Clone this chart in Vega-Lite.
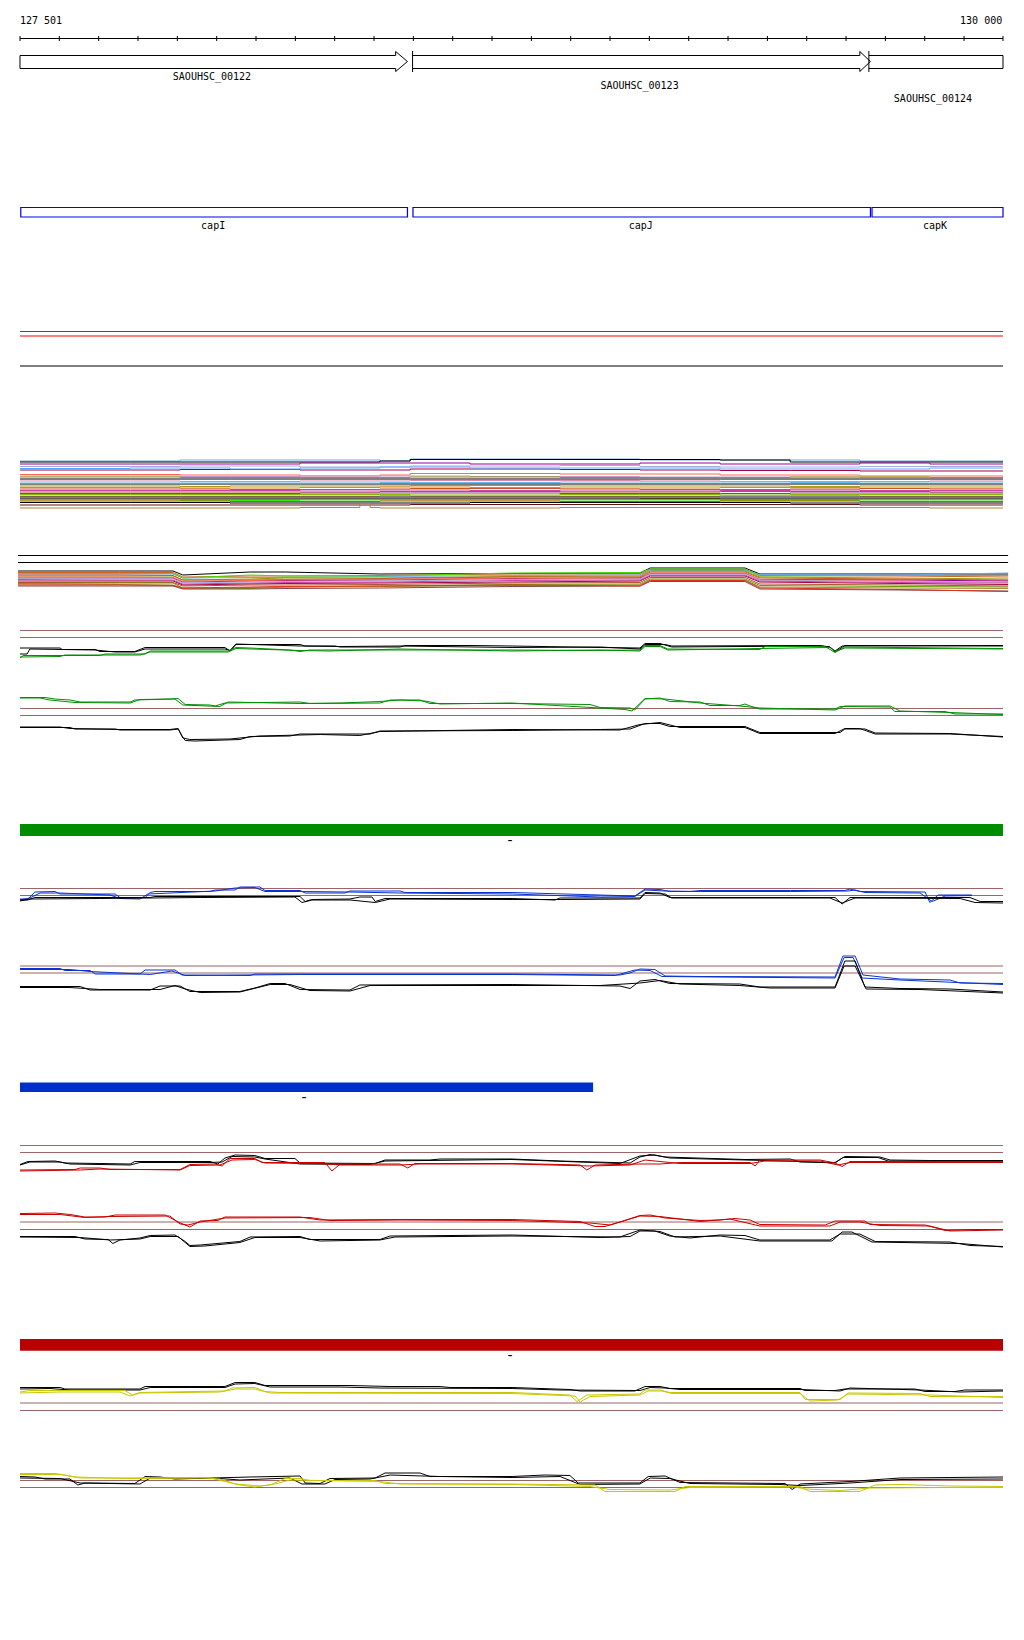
{
"$schema":"https://vega.github.io/schema/vega-lite/v6.json",
"width":1024,"height":1640,
"autosize":{"type":"fit","contains":"padding"},
"padding":0,
"background":"white",
"view":{"stroke":null},
"datasets":{
"hrules":[
{"s":"ref","x":127501,"x2":130000,"y":38.5},
{"s":"pair","x":127501,"x2":130000,"y":331.5},
{"s":"pair","x":127501,"x2":130000,"y":336},
{"s":"ref","x":127501,"x2":130000,"y":366},
{"s":"ref","x":127496,"x2":130013,"y":555.5},
{"s":"ref","x":127496,"x2":130013,"y":562.5},
{"s":"thr","x":127501,"x2":130000,"y":630.5},
{"s":"thr","x":127501,"x2":130000,"y":637.5},
{"s":"thr","x":127501,"x2":130000,"y":708.5},
{"s":"thr","x":127501,"x2":130000,"y":715.5},
{"s":"thr","x":127501,"x2":130000,"y":888.5},
{"s":"thr","x":127501,"x2":130000,"y":895.5},
{"s":"thr","x":127501,"x2":130000,"y":966},
{"s":"thr","x":127501,"x2":130000,"y":973},
{"s":"thr","x":127501,"x2":130000,"y":1145.5},
{"s":"thr","x":127501,"x2":130000,"y":1152.5},
{"s":"thr","x":127501,"x2":130000,"y":1222},
{"s":"thr","x":127501,"x2":130000,"y":1229.5},
{"s":"thr","x":127501,"x2":130000,"y":1403},
{"s":"thr","x":127501,"x2":130000,"y":1410.5},
{"s":"thr","x":127501,"x2":130000,"y":1480.5},
{"s":"thr","x":127501,"x2":130000,"y":1487.5}
],
"ticks":[
{"x":127501,"y":36,"y2":41},{"x":127601,"y":36,"y2":41},{"x":127701,"y":36,"y2":41},{"x":127801,"y":36,"y2":41},{"x":127901,"y":36,"y2":41},
{"x":128001,"y":36,"y2":41},{"x":128101,"y":36,"y2":41},{"x":128201,"y":36,"y2":41},{"x":128301,"y":36,"y2":41},{"x":128401,"y":36,"y2":41},
{"x":128501,"y":36,"y2":41},{"x":128601,"y":36,"y2":41},{"x":128701,"y":36,"y2":41},{"x":128801,"y":36,"y2":41},{"x":128901,"y":36,"y2":41},
{"x":129001,"y":36,"y2":41},{"x":129101,"y":36,"y2":41},{"x":129201,"y":36,"y2":41},{"x":129301,"y":36,"y2":41},{"x":129401,"y":36,"y2":41},
{"x":129501,"y":36,"y2":41},{"x":129601,"y":36,"y2":41},{"x":129701,"y":36,"y2":41},{"x":129801,"y":36,"y2":41},{"x":129901,"y":36,"y2":41},
{"x":130000,"y":36,"y2":41}
],
"genes":[
{"id":"g1","x":[127501,128456,128456,128486,128456,128456,127501,127501],"y":[55.5,55.5,51.5,61.5,71.5,68.5,68.5,55.5],"i":[0,1,2,3,4,5,6,7]},
{"id":"g2s","x":[128499,128499],"y":[51,72],"i":[0,1]},
{"id":"g2","x":[128499,129636,129636,129663,129636,129636,128499],"y":[55.5,55.5,51.5,61.5,71.5,68.5,68.5],"i":[0,1,2,3,4,5,6]},
{"id":"g3s","x":[129659,129659],"y":[51,72],"i":[0,1]},
{"id":"g3","x":[129659,130000,130000,129659],"y":[55.5,55.5,68.5,68.5],"i":[0,1,2,3]}
],
"caps":[
{"t":"capI","x":127503,"x2":128486,"y":207.5,"y2":217},
{"t":"capJ","x":128500,"x2":129663,"y":207.5,"y2":217},
{"t":"capK","x":129667,"x2":130000,"y":207.5,"y2":217}
],
"bars":[
{"s":"barG","x":127501,"x2":130000,"y":824,"y2":836},
{"s":"barB","x":127501,"x2":128958,"y":1082.5,"y2":1092},
{"s":"barR","x":127501,"x2":130000,"y":1339,"y2":1350.7}
],
"textC":[
{"t":"SAOUHSC_00122","x":127989,"y":80},
{"t":"SAOUHSC_00123","x":129076,"y":89},
{"t":"SAOUHSC_00124","x":129822,"y":101.5},
{"t":"capI","x":127992,"y":228.5},
{"t":"capJ","x":129079,"y":228.5},
{"t":"capK","x":129827,"y":228.5}
],
"dashes":[
{"t":"-","x":128747,"y":845},
{"t":"-","x":128223,"y":1101.5},
{"t":"-","x":128747,"y":1359.5}
],
"textL":[{"t":"127 501","x":127501,"y":24}],
"textR":[{"t":"130 000","x":129998,"y":24}],
"band1":[
{"id":"m01","s":"m01","x":[127501,127781,127908,128035,128213,128416,128493,128645,128874,129077,129281,129459,129636,129814,130000],"y":[461,461,460,460,460,461,459,459,459,460,460,460,461,461,461]},
{"id":"m02","s":"m02","x":[127501,127781,127908,128035,128213,128416,128493,128645,128874,129077,129281,129459,129636,129814,130000],"y":[462,462,462,462,462,461,459.5,459.5,459.5,459.5,460,462,462,462,462]},
{"id":"m03","s":"m03","x":[127501,127781,127908,128035,128213,128416,128493,128645,128874,129077,129281,129459,129636,129814,130000],"y":[464,464,464,464,463,463,463,464,464,463,464,464,463,464,464]},
{"id":"m04","s":"m04","x":[127501,127781,127908,128035,128213,128416,128493,128645,128874,129077,129281,129459,129636,129814,130000],"y":[466.5,466.5,466,466,467,467,466,466,465.5,466.5,467,467,466.5,466.5,466.5]},
{"id":"m05","s":"m05","x":[127501,127781,127908,128035,128213,128416,128493,128645,128874,129077,129281,129459,129636,129814,130000],"y":[470,470,469.5,469.5,470,470,469,469,469.5,470,470.5,470.5,471,471,471]},
{"id":"m06","s":"m06","x":[127501,127781,127908,128035,128213,128416,128493,128645,128874,129077,129281,129459,129636,129814,130000],"y":[468.5,468,468,469,468,467,467,468,468,468,469,469,469,468,468]},
{"id":"m07","s":"m07","x":[127501,127781,127908,128035,128213,128416,128493,128645,128874,129077,129281,129459,129636,129814,130000],"y":[474.5,474.5,475,475,476,475,473.5,473.5,474,474,475,475,476,476,476]},
{"id":"m08","s":"m08","x":[127501,127781,127908,128035,128213,128416,128493,128645,128874,129077,129281,129459,129636,129814,130000],"y":[476,476,476.5,476.5,476,476,476,476.5,476.5,477,477,477,477.5,477.5,477.5]},
{"id":"m09","s":"m09","x":[127501,127781,127908,128035,128213,128416,128493,128645,128874,129077,129281,129459,129636,129814,130000],"y":[477,477,477.5,477.5,477.5,477.5,477,477,477.5,477.5,477.5,477,477,477.5,477.5]},
{"id":"m10","s":"m10","x":[127501,127781,127908,128035,128213,128416,128493,128645,128874,129077,129281,129459,129636,129814,130000],"y":[479,479,479,479,479,479,479,479,479,479,479,479,479,479,479]},
{"id":"m11","s":"m11","x":[127501,127781,127908,128035,128213,128416,128493,128645,128874,129077,129281,129459,129636,129814,130000],"y":[481,481,481.5,481.5,481,481,480.5,480.5,480.5,481,481.5,481.5,481.5,481,481]},
{"id":"m12","s":"m12","x":[127501,127781,127908,128035,128213,128416,128493,128645,128874,129077,129281,129459,129636,129814,130000],"y":[484,484,484,484,484,484,484,484,484,484,484,484,484,484,484]},
{"id":"m13","s":"m13","x":[127501,127781,127908,128035,128213,128416,128493,128645,128874,129077,129281,129459,129636,129814,130000],"y":[483,483,483,483,483,482.5,482.5,482.5,482,482,482,482.5,482,482,482]},
{"id":"m14","s":"m14","x":[127501,127781,127908,128035,128213,128416,128493,128645,128874,129077,129281,129459,129636,129814,130000],"y":[486,486,486.5,486,486,486,485.5,485.5,486,486,486,486.5,486,486,486]},
{"id":"m15","s":"m15","x":[127501,127781,127908,128035,128213,128416,128493,128645,128874,129077,129281,129459,129636,129814,130000],"y":[487.5,487.5,488,488,487.5,487,487,487.5,488,488,487.5,487.5,488,488,488]},
{"id":"m16","s":"m16","x":[127501,127781,127908,128035,128213,128416,128493,128645,128874,129077,129281,129459,129636,129814,130000],"y":[489,489,489,489.5,489.5,489,488.5,488.5,489,489.5,489.5,489,488.5,489,489]},
{"id":"m17","s":"m17","x":[127501,127781,127908,128035,128213,128416,128493,128645,128874,129077,129281,129459,129636,129814,130000],"y":[490.5,490.5,490.5,490.5,490,490,490,490.5,491,491,490.5,490,490.5,490.5,490.5]},
{"id":"m18","s":"m18","x":[127501,127781,127908,128035,128213,128416,128493,128645,128874,129077,129281,129459,129636,129814,130000],"y":[492,492,492,492,492,491.5,491.5,491.5,492,492,491.5,491.5,491.5,492,492]},
{"id":"m19","s":"m19","x":[127501,127781,127908,128035,128213,128416,128493,128645,128874,129077,129281,129459,129636,129814,130000],"y":[493.5,493.5,493.5,493.5,493,493,493,493,493.5,493.5,493.5,493,493,493,493]},
{"id":"m20","s":"m20","x":[127501,127781,127908,128035,128213,128416,128493,128645,128874,129077,129281,129459,129636,129814,130000],"y":[494.5,494.5,494.5,494.5,494.5,494.5,495,495,494.5,494.5,495,494.5,494.5,494.5,494.5]},
{"id":"m21","s":"m21","x":[127501,127781,127908,128035,128213,128416,128493,128645,128874,129077,129281,129459,129636,129814,130000],"y":[496,496,496,496,496,495.5,496,496,496,496,495.5,495.5,496,496,496]},
{"id":"m22","s":"m22","x":[127501,127781,127908,128035,128213,128416,128493,128645,128874,129077,129281,129459,129636,129814,130000],"y":[497,497,497,497,497,497,497,497,497,497,497,497,497,497,497]},
{"id":"m23","s":"m23","x":[127501,127781,127908,128035,128213,128416,128493,128645,128874,129077,129281,129459,129636,129814,130000],"y":[498,498,498,498,498,498,498,498,498,498.5,498,498,498,498,498]},
{"id":"m24","s":"m24","x":[127501,127781,127908,128035,128213,128416,128493,128645,128874,129077,129281,129459,129636,129814,130000],"y":[499,499,499,499,499,499,499,499,499,499,499,499,499,499,499]},
{"id":"m25","s":"m25","x":[127501,127781,127908,128035,128213,128416,128493,128645,128874,129077,129281,129459,129636,129814,130000],"y":[500,500,500.5,500.5,500,500,500,500,500,500,500.5,500.5,500,500,500]},
{"id":"m26","s":"m26","x":[127501,127781,127908,128035,128213,128416,128493,128645,128874,129077,129281,129459,129636,129814,130000],"y":[501,501,501,501.5,501.5,501,501,501,501.5,501.5,501,501,501.5,501.5,501.5]},
{"id":"m27","s":"m27","x":[127501,127781,127908,128035,128213,128416,128493,128645,128874,129077,129281,129459,129636,129814,130000],"y":[502.5,502.5,502.5,503,503,503,503,502.5,502.5,502.5,502.5,503,503,503,503]},
{"id":"m28","s":"m28","x":[127501,127781,127908,128035,128213,128416,128493,128645,128874,129077,129281,129459,129636,129814,130000],"y":[505,505,505,505,505,505,504.5,504.5,504.5,504.5,504.5,504.5,505,505,505]},
{"id":"m29","s":"m29","x":[127501,127781,127908,128035,128213,128365,128391,128416,128493,128645,128874,129077,129281,129459,129636,129814,130000],"y":[508,508,508,508,507.5,503.5,507.5,508,508,508,507.5,507.5,507.5,507.5,507.5,508,508]}
],
"band2":[
{"id":"n01","s":"n01","x":[127496,127755,127890,127915,128086,128175,128416,128752,129077,129103,129344,129382,129738,130013],"y":[571,571,571,575,572,572,574,573.5,573,568,568,574,574,574]},
{"id":"n02","s":"n02","x":[127496,127755,127890,127915,128086,128175,128416,128752,129077,129103,129344,129382,129738,130013],"y":[572.5,572.5,572.5,577,576,576,575.5,574,574,569.5,569.5,575.5,576,577]},
{"id":"n03","s":"n03","x":[127496,127755,127890,127915,128086,128175,128416,128752,129077,129103,129344,129382,129738,130013],"y":[574,574,574,578,577.5,577.5,576.5,575.5,575,570.5,570.5,574.5,575,573]},
{"id":"n04","s":"n04","x":[127496,127755,127890,127915,128086,128175,128416,128752,129077,129103,129344,129382,129738,130013],"y":[573.5,573.5,573.5,578,575,576,576,573,572.5,569,569,576,575.5,575.5]},
{"id":"n05","s":"n05","x":[127496,127755,127890,127915,128086,128175,128416,128752,129077,129103,129344,129382,129738,130013],"y":[576,576,576,580,579,578,578,576.5,576,571,571,577,578,579]},
{"id":"n06","s":"n06","x":[127496,127755,127890,127915,128086,128175,128416,128752,129077,129103,129344,129382,129738,130013],"y":[575,575,575.5,580,580,579.5,578.5,577,577,572,572,578,579,580]},
{"id":"n07","s":"n07","x":[127496,127755,127890,127915,128086,128175,128416,128752,129077,129103,129344,129382,129738,130013],"y":[578,578,578,582,581,580.5,580,578.5,578,573.5,573.5,579.5,580,581]},
{"id":"n08","s":"n08","x":[127496,127755,127890,127915,128086,128175,128416,128752,129077,129103,129344,129382,129738,130013],"y":[577,577,577.5,581.5,580.5,580,579.5,578,579,573,573,580,581,582.5]},
{"id":"n09","s":"n09","x":[127496,127755,127890,127915,128086,128175,128416,128752,129077,129103,129344,129382,129738,130013],"y":[579.5,580,580,584,583,582.5,582,580.5,580,575,575,581,582.5,583]},
{"id":"n10","s":"n10","x":[127496,127755,127890,127915,128086,128175,128416,128752,129077,129103,129344,129382,129738,130013],"y":[578.5,579,579,583,582,581.5,581,579.5,579,574,574,580,581.5,582]},
{"id":"n11","s":"n11","x":[127496,127755,127890,127915,128086,128175,128416,128752,129077,129103,129344,129382,129738,130013],"y":[581,581,581,585,584,583.5,583,582,581,576,576,582,583.5,584.5]},
{"id":"n12","s":"n12","x":[127496,127755,127890,127915,128086,128175,128416,128752,129077,129103,129344,129382,129738,130013],"y":[582.5,582.5,582.5,586,585,585,584.5,583,582.5,577.5,577.5,584,585,586]},
{"id":"n13","s":"n13","x":[127496,127755,127890,127915,128086,128175,128416,128752,129077,129103,129344,129382,129738,130013],"y":[583.5,583,583,588,588.5,587,586,584.5,584,579,579,585.5,586.5,587]},
{"id":"n14","s":"n14","x":[127496,127755,127890,127915,128086,128175,128416,128752,129077,129103,129344,129382,129738,130013],"y":[584,584.5,585,588.5,587.5,587,586.5,585.5,585,580,580,587,588,588.5]},
{"id":"n15","s":"n15","x":[127496,127755,127890,127915,128086,128175,128416,128752,129077,129103,129344,129382,129738,130013],"y":[586,586,586,589,589,588.5,588,586.5,586,581.5,581.5,589,590,591]},
{"id":"n16","s":"n16","x":[127496,127755,127890,127915,128086,128175,128416,128752,129077,129103,129344,129382,129738,130013],"y":[585,585,585.5,588,587,586.5,586,585,586,580.5,580.5,588,589.5,591.5]}
],
"tracks":[
{"id":"D1k_a","s":"ctrl","x":[127501,127603,127608,127692,127704,127793,127819,128022,128035,128050,128213,128226,128302,128315,128467,128480,128645,128752,128976,129077,129090,129128,129158,129535,129560,129573,129591,130000],"y":[648,648,649.5,649.5,651.5,651.5,647.5,647.5,651,644.5,644.5,646,646,647,647,645.5,645.5,646,647.5,648,643.5,643.5,647,646,647,651,646,645.5]},
{"id":"D1k_b","s":"ctrl","x":[127501,127519,127526,127692,127743,127793,127819,128022,128035,128050,128213,128315,128467,128752,128976,129077,129090,129141,129158,129535,129560,129573,129598,130000],"y":[654,654,649,650,652,652,649,649,650.5,644,646,646.5,646,647.5,647,649,644.5,644.5,646,645.5,647,652,645.5,646]},
{"id":"D1g_a","s":"cG","x":[127501,127509,127704,127717,127819,127832,128030,128050,128086,128187,128213,128238,128467,128752,128950,129077,129090,129128,129148,129382,129395,129548,129573,129598,130000],"y":[658,655.5,655.5,654,654,651,651,647.5,648,650,651.5,650,650,650,650.5,650,645.5,645.5,649,649.5,646.5,646.5,652.5,647,648.5]},
{"id":"D1g_b","s":"cG","x":[127501,127603,127615,127806,127832,128030,128050,128213,128289,128467,128752,128976,129077,129090,129128,129148,129382,129560,129573,129598,130000],"y":[657,656.5,655,655,652,652,648.5,650.5,651,649,651,650,651,646.5,646.5,650,648.5,647.5,651.5,648,649]},
{"id":"D2g_a","s":"cG","x":[127501,127565,127590,127628,127654,127781,127793,127882,127903,127921,127984,127997,128022,128213,128238,128416,128442,128518,128543,128752,128950,128976,129052,129064,129090,129128,129153,129230,129255,129331,129344,129357,129382,129573,129586,129713,129725,129853,129878,130000],"y":[697.5,697.5,699,700,702,702,700,699,698.5,704.5,705,706,703,702,703.5,703,700,700,703.5,703.5,704.5,707.5,708,710,699,698,701.5,702,705.5,705.5,704,706,709,709,706.5,707,711.5,711.5,714,714]},
{"id":"D2g_b","s":"cG","x":[127501,127552,127577,127641,127781,127806,127895,127915,128009,128030,128213,128315,128416,128467,128531,128569,128752,128976,129039,129057,129090,129141,129230,129331,129382,129573,129598,129713,129738,129865,130000],"y":[698,698,700,702.5,703,699.5,699,705,706.5,702,703.5,703,701.5,700,701,704,703,708,709.5,711,698.5,699,703,706,708,710,706,706,711,712.5,714.5]},
{"id":"D2k_a","s":"ctrl","x":[127501,127628,127641,127743,127755,127882,127903,127913,127921,127946,128060,128086,128187,128213,128391,128416,128752,128976,129052,129090,129128,129153,129344,129382,129586,129598,129649,129675,129865,130000],"y":[727.5,727.5,729,729,730,730,729,736,740.5,741,739.5,736.5,736,734,734,731,730.5,729.5,729,723.5,723.5,726.5,726.5,732.5,732.5,729,729,733,733.5,737]},
{"id":"D2k_b","s":"ctrl","x":[127501,127603,127628,127755,127882,127903,127915,127933,128035,128111,128264,128365,128416,128752,129026,129077,129128,129179,129344,129382,129573,129598,129636,129675,129865,130000],"y":[727,727,728.5,729.5,729.5,728.5,738,739.5,739,736,734.5,735.5,731.5,729.5,730,724.5,722.5,727.5,727.5,733.5,733.5,728.5,728.5,734,734,736.5]},
{"id":"E1b_a","s":"cB","x":[127501,127521,127539,127590,127603,127743,127755,127819,127832,127844,127984,127997,128048,128060,128111,128124,128213,128226,128327,128340,128467,128480,128752,129064,129090,129128,129153,129204,129230,129459,129598,129611,129636,129802,129814,129835,129921],"y":[899,899,892,891.5,894,894,897.5,897.5,892.5,891.5,891.5,890,890,887,887,890.5,890.5,893,893,891,891,892.5,892.5,896,889,889.5,891.5,891.5,890.5,890.5,890.5,889,891.5,892,902.5,895,895]},
{"id":"E1b_b","s":"cB","x":[127501,127526,127552,127603,127730,127755,127806,127826,127997,128048,128098,128124,128213,128340,128467,128752,128976,129064,129090,129141,129230,129459,129606,129624,129649,129789,129820,129853,129921],"y":[900,898,893,893,895,898.5,899,894,891,888,887.5,891.5,891.5,892,893,894,897,896.5,890,891,891.5,891.5,891,890,892.5,893,901.5,896,895.5]},
{"id":"E1k_a","s":"ctrl","x":[127501,127521,127539,127832,127844,128213,128226,128243,128340,128365,128396,128404,128429,128752,128861,128874,129077,129090,129128,129153,129573,129591,129611,129916,129942,130000],"y":[900,900,897.5,897.5,896.5,896.5,901.5,899.5,899,897,897,901.5,898.5,898.5,900,898,898,892.5,893,897.5,897.5,904,897.5,897.5,901.5,901.5]},
{"id":"E1k_b","s":"ctrl","x":[127501,127526,127704,127959,128200,128218,128243,128340,128404,128442,128752,128874,129077,129090,129141,129158,129560,129591,129624,129891,129929,130000],"y":[901,899,898.5,897.5,897,902.5,900,900,902.5,899,899.5,899.5,899,893.5,894,898,898,903,898,898.5,902.5,903]},
{"id":"E2b_a","s":"cB","x":[127501,127603,127615,127679,127692,127806,127819,127895,127913,128086,128098,128752,129026,129052,129077,129115,129141,129230,129573,129593,129624,129644,129738,129865,129891,130000],"y":[968.5,968.5,970.5,970.5,974,974,970,970,975,975.5,974,974,975,973,969,969.5,976,976.5,977,956,956,975,979,980,983,983.5]},
{"id":"E2b_b","s":"cB","x":[127501,127628,127679,127832,127887,127921,128213,128752,129014,129064,129103,129133,129573,129596,129619,129642,129738,130000],"y":[969.5,969.5,971.5,974.5,971,975.5,974.5,974.5,975.5,970,970.5,976.5,978,957.5,957.5,978,980,984.5]},
{"id":"E2k_a","s":"ctrl","x":[127501,127654,127679,127832,127857,127908,127933,128060,128098,128137,128175,128213,128340,128365,128752,129026,129052,129077,129115,129153,129331,129382,129573,129598,129624,129649,129738,129865,130000],"y":[986.5,986.5,990,990,986,986,991.5,991.5,988,983.5,983.5,989.5,990,985,984.5,986,988.5,981,979.5,983.5,984,987,987,961,961,987,988.5,989,992]},
{"id":"E2k_b","s":"ctrl","x":[127501,127628,127704,127857,127895,127921,127959,128060,128137,128187,128238,128340,128391,128752,128976,129077,129128,129179,129331,129408,129573,129596,129624,129652,129789,130000],"y":[987.5,987.5,989.5,989.5,985.5,989,992.5,992,984.5,984.5,990.5,991,985.5,985.5,985.5,983,980.5,984,985.5,988,988,966,966,989,989.5,993]},
{"id":"F1k_a","s":"ctrl","x":[127501,127521,127590,127615,127704,127781,127793,127984,128004,128022,128048,128098,128124,128200,128213,128404,128429,128543,128569,128752,128874,129052,129077,129103,129141,129344,129459,129484,129573,129598,129687,129713,129814,130000],"y":[1164.5,1161.5,1161,1163,1163.5,1164,1161.5,1161.5,1164,1158,1155,1155.5,1158.5,1158.5,1163,1163.5,1160,1160,1159,1159,1161,1163,1157,1154.5,1157,1159.5,1159,1162,1162.5,1156.5,1157,1160,1160.5,1160.5]},
{"id":"F1k_b","s":"ctrl","x":[127501,127526,127603,127628,127781,127806,127984,128015,128040,128098,128124,128213,128391,128429,128752,129026,129077,129115,129153,129344,129484,129573,129593,129682,129708,130000],"y":[1165,1162,1162,1164,1165,1162.5,1162.5,1162,1156.5,1157,1159,1164,1164.5,1161,1159.5,1163.5,1156,1155,1158,1160,1161.5,1163,1157.5,1157.5,1161,1161]},
{"id":"F1r_a","s":"cR","x":[127501,127641,127654,127704,127730,127908,127933,127997,128015,128035,128098,128116,128276,128294,128315,128467,128487,128505,128752,128874,128925,128942,128963,129077,129128,129179,129357,129370,129382,129535,129573,129591,129611,130000],"y":[1170,1169.5,1168,1168,1169.5,1169.5,1164.5,1164,1166,1158.5,1158.5,1162.5,1162.5,1171,1164,1164,1168,1163.5,1163.5,1164.5,1165,1170,1165,1164,1164,1162.5,1162.5,1166,1160,1160,1163,1166.5,1161.5,1161.5]},
{"id":"F1r_b","s":"cR","x":[127501,127654,127704,127908,127933,128009,128040,128098,128124,128264,128315,128467,128518,128752,128950,129052,129090,129179,129357,129395,129535,129580,129611,130000],"y":[1171,1170,1169,1170,1165.5,1165,1160,1159.5,1163,1163.5,1165,1165,1164,1164,1166,1165,1160,1163.5,1163.5,1161,1161,1165,1162.5,1162.5]},
{"id":"F2r_a","s":"cR","x":[127501,127590,127628,127666,127717,127743,127870,127903,127933,127959,128004,128022,128213,128238,128264,128467,128752,128925,128963,128988,129026,129077,129103,129141,129230,129281,129319,129357,129382,129548,129573,129649,129662,129802,129853,129916,130000],"y":[1213.5,1213,1214.5,1217,1217,1215,1215,1222,1227,1221,1220.5,1217,1217,1218.5,1220,1219.5,1219.5,1221.5,1226.5,1226.5,1222,1215.5,1215,1218,1220.5,1220,1218.5,1220,1224.5,1225,1221,1221,1224.5,1225,1230.5,1229.5,1229.5]},
{"id":"F2r_b","s":"cR","x":[127501,127603,127666,127730,127882,127908,127928,127959,128022,128238,128289,128467,128752,128950,129001,129077,129128,129230,129306,129382,129560,129586,129636,129687,129814,129865,130000],"y":[1214.5,1214.5,1217.5,1216.5,1216,1224,1225,1222,1218,1217.5,1220.5,1220,1220.5,1223,1225,1216,1216.5,1221.5,1219,1226,1226,1222,1222,1225.5,1226,1231,1230]},
{"id":"F2k_a","s":"ctrl","x":[127501,127641,127666,127725,127737,127755,127806,127832,127895,127921,127933,127959,128060,128086,128213,128238,128416,128442,128752,128976,129052,129077,129115,129153,129204,129281,129344,129382,129560,129586,129636,129675,129865,129916,130000],"y":[1236.5,1236.5,1239,1239.5,1243.5,1240,1238,1235.5,1235,1241.5,1245.5,1245,1241.5,1237,1236.5,1239.5,1239.5,1236,1235,1237.5,1236.5,1231,1231,1236,1238,1235,1235.5,1240,1240,1234,1234,1241.5,1242,1245.5,1246.5]},
{"id":"F2k_b","s":"ctrl","x":[127501,127654,127730,127806,127832,127903,127933,127971,128060,128098,128213,128264,128416,128454,128752,129026,129077,129128,129166,129281,129382,129565,129591,129616,129667,129891,130000],"y":[1237,1237.5,1240,1239,1236.5,1236.5,1246.5,1246,1242.5,1237.5,1237.5,1241,1240,1237,1236,1237,1230,1231.5,1237,1236,1241,1241,1232,1232,1242,1243.5,1247]},
{"id":"G1k_a","s":"ctrl","x":[127501,127603,127615,127806,127819,128022,128048,128098,128124,128340,128442,128569,128594,128752,128899,128925,129064,129090,129128,129153,129484,129497,129573,129598,129776,129802,129878,129903,130000],"y":[1387.5,1387.5,1389,1389,1386.5,1386.5,1382.5,1382.5,1385.5,1385.5,1386.5,1386.5,1387.5,1387.5,1389.5,1391,1391,1386.5,1386.5,1388.5,1388.5,1390.5,1390.5,1389,1389,1391.5,1391.5,1390,1390]},
{"id":"G1k_b","s":"ctrl","x":[127501,127577,127628,127806,127832,128022,128048,128098,128137,128315,128416,128752,128874,129077,129103,129141,129179,129484,129586,129611,129789,129891,130000],"y":[1389,1388.5,1390,1390,1387.5,1387.5,1384,1383.5,1387,1387,1388,1388.5,1390,1390.5,1387.5,1388,1389.5,1389.5,1391,1388,1390,1392,1391]},
{"id":"G1y_a","s":"cY","x":[127501,127526,127768,127786,127806,128022,128040,128098,128124,128162,128752,128899,128917,128942,129077,129090,129128,129153,129484,129497,129586,129606,129789,129814,130000],"y":[1392,1390.5,1390.5,1395,1392.5,1391,1388,1387.5,1391.5,1392.5,1392.5,1395,1401.5,1395,1394,1390,1390,1392.5,1392.5,1399.5,1399.5,1393,1393.5,1396.5,1396.5]},
{"id":"G1y_b","s":"cY","x":[127501,127603,127755,127781,127806,128009,128048,128098,128137,128752,128912,128925,128950,129077,129098,129133,129158,129484,129509,129580,129606,129814,130000],"y":[1393,1392,1392,1396,1393,1392,1389,1389,1393,1393.5,1396,1402,1396.5,1395,1391,1391,1393.5,1393.5,1401,1400,1394,1395,1397.5]},
{"id":"G2k_a","s":"ctrl","x":[127501,127539,127565,127628,127648,127666,127793,127819,127857,127895,128086,128213,128226,128264,128289,128404,128429,128518,128543,128752,128836,128899,128920,129077,129098,129141,129179,129446,129464,129484,129611,129738,129865,130000],"y":[1476.5,1477,1479,1479,1485,1483,1483.5,1476.5,1477,1479,1477,1476,1483,1483.5,1478.5,1478,1473,1473,1476.5,1476.5,1475,1475.5,1483,1483,1476.5,1476,1482.5,1483.5,1489.5,1484,1481.5,1478,1477.5,1477]},
{"id":"G2k_b","s":"ctrl","x":[127501,127603,127654,127806,127832,128009,128060,128187,128218,128276,128302,128391,128442,128569,128752,128874,128925,129077,129103,129153,129204,129433,129484,129611,129738,130000],"y":[1478,1478.5,1483,1484,1478,1478.5,1480,1478,1484,1484,1479.5,1479,1475,1476.5,1477.5,1476.5,1484.5,1484,1478,1478.5,1483.5,1484.5,1485.5,1483,1479.5,1479]},
{"id":"G2y_a","s":"cY","x":[127501,127590,127615,127654,127755,127959,128009,128048,128111,128137,128175,128213,128238,128404,128429,128752,128963,128988,129166,129192,129484,129509,129636,129675,129738,129865,130000],"y":[1473.5,1473.5,1475,1478,1478,1477.5,1479,1484,1486,1485,1478.5,1478.5,1480.5,1480.5,1483.5,1484,1485,1491.5,1491.5,1486.5,1486.5,1491.5,1491.5,1485,1484.5,1486,1486.5]},
{"id":"G2y_b","s":"cY","x":[127501,127603,127641,127781,127984,128060,128098,128149,128187,128416,128467,128752,128950,129001,129153,129204,129471,129497,129586,129662,129865,130000],"y":[1474.5,1474.5,1477,1478.5,1478,1485,1487,1484,1480,1481.5,1484,1484.5,1486.5,1489.5,1490,1487.5,1487,1489,1490.5,1488,1487.5,1487.5]}
]
},
"encoding":{
"x":{"field":"x","type":"quantitative","scale":{"domain":[127450.16,130053.39],"nice":false,"zero":false},"axis":null},
"y":{"field":"y","type":"quantitative","scale":{"domain":[0,1640],"nice":false,"zero":false,"reverse":true},"axis":null}
},
"layer":[
{"data":{"name":"hrules"},"mark":{"type":"rule","strokeWidth":1},
 "encoding":{"x2":{"field":"x2"},
 "color":{"field":"s","type":"nominal","legend":null,"scale":{
 "domain":["ref","pair","thr","barG","barB","barR","ctrl","cG","cB","cR","cY","m01","m02","m03","m04","m05","m06","m07","m08","m09","m10","m11","m12","m13","m14","m15","m16","m17","m18","m19","m20","m21","m22","m23","m24","m25","m26","m27","m28","m29","n01","n02","n03","n04","n05","n06","n07","n08","n09","n10","n11","n12","n13","n14","n15","n16"],
 "range":["#000000","#ff0000","#9c6464","#008c00","#0030c8","#bb0000","#000000","#008f00","#0a32d2","#cc0000","#c8c800","#66aadd","#000000","#990099","#aaaadd","#aa0044","#55aaff","#ff6655","#bb99cc","#999900","#000000","#dd88aa","#000000","#66bbee","#aa9911","#dd8822","#cc5522","#cc44aa","#aa5533","#993399","#88bb00","#ee9933","#000000","#888800","#000033","#33ee00","#dd4411","#000000","#661111","#aa8833","#000000","#cc6622","#66aaee","#44dd00","#999900","#cc5522","#990099","#ff6655","#cc44aa","#aaaadd","#aa0044","#aa5533","#669900","#aa8833","#884444","#dd3322"]}}}},
{"data":{"name":"ticks"},"mark":{"type":"rule","strokeWidth":1,"color":"#000000"},"encoding":{"y2":{"field":"y2"}}},
{"data":{"name":"genes"},"transform":[{"flatten":["x","y","i"]}],"mark":{"type":"line","strokeWidth":1,"color":"#000000"},
 "encoding":{"detail":{"field":"id"},"order":{"field":"i","type":"quantitative"}}},
{"data":{"name":"caps"},"mark":{"type":"rect","fill":"#ffffff","fillOpacity":0,"stroke":"#0000ee","strokeWidth":1.2},
 "encoding":{"x2":{"field":"x2"},"y2":{"field":"y2"}}},
{"data":{"name":"bars"},"mark":{"type":"rect"},
 "encoding":{"x2":{"field":"x2"},"y2":{"field":"y2"},"color":{"field":"s","type":"nominal","legend":null}}},
{"data":{"name":"band1"},"transform":[{"flatten":["x","y"]}],"mark":{"type":"line","strokeWidth":1,"interpolate":"step-after"},
 "encoding":{"detail":{"field":"id"},"color":{"field":"s","type":"nominal","legend":null}}},
{"data":{"name":"band2"},"transform":[{"flatten":["x","y"]}],"mark":{"type":"line","strokeWidth":1,"interpolate":"linear"},
 "encoding":{"detail":{"field":"id"},"color":{"field":"s","type":"nominal","legend":null}}},
{"data":{"name":"tracks"},"transform":[{"flatten":["x","y"]}],"mark":{"type":"line","strokeWidth":1,"interpolate":"linear"},
 "encoding":{"detail":{"field":"id"},"color":{"field":"s","type":"nominal","legend":null}}},
{"data":{"name":"textC"},"mark":{"type":"text","font":"DejaVu Sans Mono","fontSize":10,"align":"center","baseline":"alphabetic","color":"#000000"},
 "encoding":{"text":{"field":"t"}}},
{"data":{"name":"dashes"},"mark":{"type":"text","font":"DejaVu Sans","fontSize":14,"align":"center","baseline":"alphabetic","color":"#000000"},
 "encoding":{"text":{"field":"t"}}},
{"data":{"name":"textL"},"mark":{"type":"text","font":"DejaVu Sans Mono","fontSize":10,"align":"left","baseline":"alphabetic","color":"#000000"},
 "encoding":{"text":{"field":"t"}}},
{"data":{"name":"textR"},"mark":{"type":"text","font":"DejaVu Sans Mono","fontSize":10,"align":"right","baseline":"alphabetic","color":"#000000"},
 "encoding":{"text":{"field":"t"}}}
]
}
